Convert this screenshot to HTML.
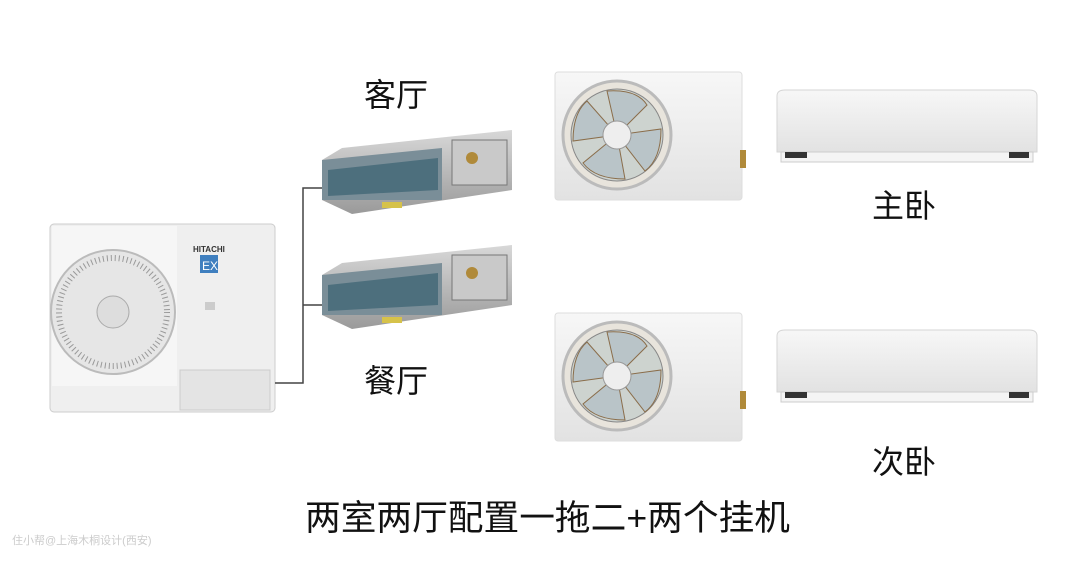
<!DOCTYPE html>
<html><head><meta charset="utf-8"><style>
html,body{margin:0;padding:0;background:#fff;}
svg{display:block}
text{font-family:"Liberation Sans","Noto Sans CJK SC",sans-serif;}
</style></head><body>
<svg width="1080" height="562" viewBox="0 0 1080 562" xmlns="http://www.w3.org/2000/svg">
<defs>
<linearGradient id="wg" x1="0" y1="0" x2="0" y2="1"><stop offset="0" stop-color="#f7f7f7"/><stop offset="1" stop-color="#e2e2e2"/></linearGradient>
<linearGradient id="dg" x1="0" y1="0" x2="0" y2="1"><stop offset="0" stop-color="#d8d8d8"/><stop offset="1" stop-color="#9a9a9a"/></linearGradient>
<g id="fan">
 <circle r="54" fill="#e8e4dc" stroke="#bbb" stroke-width="3"/>
 <circle r="46" fill="#cdd3cf" stroke="#888" stroke-width="1"/>
 <path d="M0,0 L-10,-44 Q20,-46 30,-30Z M0,0 L44,-6 Q44,24 28,36Z M0,0 L8,44 Q-22,44 -34,28Z M0,0 L-44,6 Q-44,-22 -30,-34Z" fill="#b9c4c8" stroke="#8a6d4a" stroke-width="1"/>
 <circle r="14" fill="#eee" stroke="#999"/>
</g>
<g id="small">
 <rect x="0" y="0" width="187" height="128" rx="3" fill="url(#wg)" stroke="#ddd"/>
 <use href="#fan" x="62" y="63"/>
 <rect x="185" y="78" width="6" height="18" fill="#b08a3a"/>
</g>
<g id="wall">
 <path d="M0,6 Q0,0 8,0 L252,0 Q260,0 260,6 L260,62 L0,62Z" fill="url(#wg)" stroke="#d6d6d6"/>
 <rect x="4" y="62" width="252" height="10" fill="#f4f4f4" stroke="#ccc"/>
 <rect x="8" y="62" width="22" height="6" fill="#333"/>
 <rect x="232" y="62" width="20" height="6" fill="#333"/>
</g>
<g id="duct">
 <path d="M0,30 L20,18 L190,0 L190,60 L30,84 L0,70Z" fill="url(#dg)"/>
 <path d="M0,30 L120,18 L120,70 L0,70Z" fill="#7a8e98"/>
 <path d="M6,40 L116,28 L116,60 L6,66Z" fill="#4d6f7d"/>
 <rect x="130" y="10" width="55" height="45" fill="#c9c9c9" stroke="#777"/>
 <circle cx="150" cy="28" r="6" fill="#b08a3a"/>
 <rect x="60" y="72" width="20" height="6" fill="#d6c24a"/>
</g>
</defs>

<rect x="50" y="224" width="225" height="188" rx="4" fill="#efefef" stroke="#ccc"/>
<rect x="52" y="226" width="125" height="160" fill="#f6f6f6"/>
<circle cx="113" cy="312" r="62" fill="#e6e6e6" stroke="#bbb" stroke-width="2"/>
<circle cx="113" cy="312" r="54" fill="none" stroke="#999" stroke-width="6" stroke-dasharray="1 3"/>
<circle cx="113" cy="312" r="16" fill="#ddd" stroke="#aaa"/>
<text x="193" y="252" font-size="8" font-weight="bold" fill="#333">HITACHI</text>
<rect x="200" y="255" width="18" height="18" fill="#3f7fbf"/>
<text x="202" y="270" font-size="12" fill="#fff">EX</text>
<rect x="205" y="302" width="10" height="8" fill="#ccc"/>
<rect x="180" y="370" width="90" height="40" fill="#e4e4e4" stroke="#ccc"/>

<path d="M275,383 L303,383 L303,188 L322,188 M303,305 L322,305" fill="none" stroke="#444" stroke-width="1.5"/>

<use href="#duct" x="322" y="130"/>
<use href="#duct" x="322" y="245"/>

<text x="364" y="106" font-size="32" fill="#111">客厅</text>
<text x="364" y="392" font-size="32" fill="#111">餐厅</text>

<use href="#small" x="555" y="72"/>
<use href="#small" x="555" y="313"/>
<use href="#wall" x="777" y="90"/>
<use href="#wall" x="777" y="330"/>

<text x="872" y="217" font-size="32" fill="#111">主卧</text>
<text x="872" y="473" font-size="32" fill="#111">次卧</text>

<text x="305" y="530" font-size="35" fill="#111" textLength="485" lengthAdjust="spacingAndGlyphs">两室两厅配置一拖二+两个挂机</text>
<text x="12" y="544" font-size="11" fill="#ccc">住小帮@上海木桐设计(西安)</text>
</svg>
</body></html>
